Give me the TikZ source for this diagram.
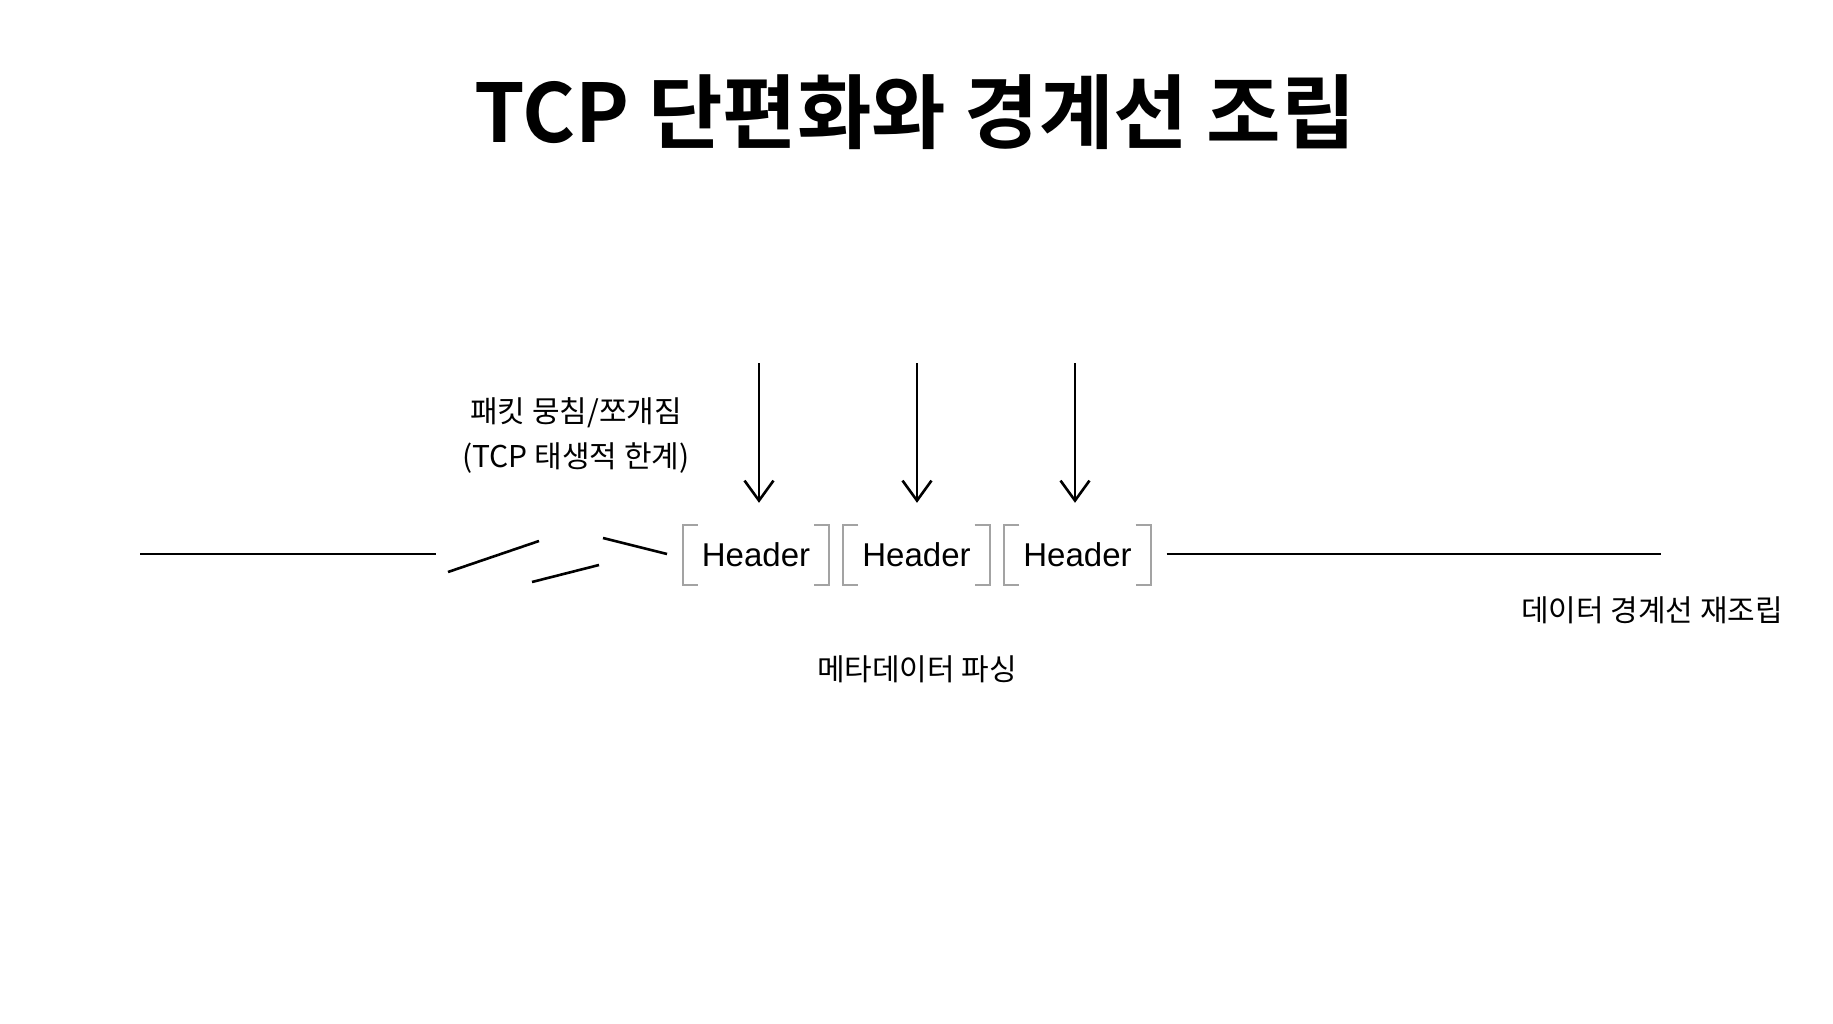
\documentclass[tikz,border=0pt]{standalone}
\usepackage{fontspec}
\setmainfont{Noto Sans CJK KR}
\newfontfamily\titlefont{Noto Sans CJK KR Bold}
\newfontfamily\hdrfont{Liberation Sans}
\usetikzlibrary{arrows.meta}
\definecolor{brkgray}{HTML}{A3A3A3}
\begin{document}
\begin{tikzpicture}[x=1pt,y=-1pt,
  ttl/.style={anchor=base,inner sep=0pt,font=\titlefont\fontsize{81}{96}\selectfont},
  lbl/.style={anchor=base,inner sep=0pt,align=center,font=\fontsize{30}{47}\selectfont},
  hdr/.style={inner sep=0pt,minimum width=146pt,minimum height=60pt,font=\hdrfont\fontsize{33}{40}\selectfont},
  brk/.style={draw=brkgray,line width=2pt},
  seg/.style={draw=black,line width=2.6pt},
  arr/.style={draw=black,line width=2.6pt,-{Straight Barb[length=20pt,width=29pt,line width=2.6pt]}}]
\useasboundingbox[fill=white] (0,0) rectangle (1833,1024);
% title
\node[ttl] (title) at (915,143) {TCP 단편화와 경계선 조립};
% header boxes
\node[hdr] (h1) at (756,555) {Header};
\node[hdr] (h2) at (916.5,555) {Header};
\node[hdr] (h3) at (1077.5,555) {Header};
\foreach \h in {h1,h2,h3}{
  \draw[brk] ([xshift=15pt]\h.north west) -- (\h.north west) -- (\h.south west) -- ([xshift=15pt]\h.south west);
  \draw[brk] ([xshift=-15pt]\h.north east) -- (\h.north east) -- (\h.south east) -- ([xshift=-15pt]\h.south east);
}
% arrows
\coordinate (a1) at (759,363);
\coordinate (a2) at (917,363);
\coordinate (a3) at (1075,363);
\draw[arr] (a1) -- ([yshift=22pt]h1.north -| a1);
\draw[arr] (a2) -- ([yshift=22pt]h2.north -| a2);
\draw[arr] (a3) -- ([yshift=22pt]h3.north -| a3);
% broken line on the left
\coordinate (l0) at (140,554);
\coordinate (l1) at (436,554);
\draw[seg] (l0) -- (l1);
\coordinate (s1a) at (448,572);
\coordinate (s1b) at (539,541);
\coordinate (s2a) at (532,582);
\coordinate (s2b) at (599,565);
\coordinate (s3a) at (603,538);
\coordinate (s3b) at (667,554);
\draw[seg] (s1a) -- (s1b);
\draw[seg] (s2a) -- (s2b);
\draw[seg] (s3a) -- (s3b);
% line on the right
\coordinate (r1) at (1661,554);
\draw[seg] ([xshift=16pt]h3.east |- r1) -- (r1);
% labels
\node[lbl] (lab1) at (576,422) {패킷 뭉침/쪼개짐};
\node[lbl] (lab2) at (576,467) {(TCP 태생적 한계)};
\node[lbl] (lab3) at (917,680) {메타데이터 파싱};
\node[lbl] (lab4) at (1652,621) {데이터 경계선 재조립};
\end{tikzpicture}
\end{document}
